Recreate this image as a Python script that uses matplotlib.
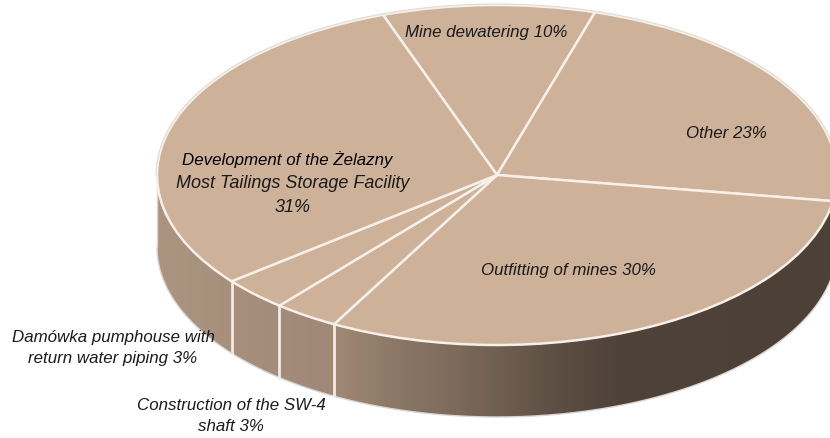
import numpy as np
import matplotlib
matplotlib.use('Agg')
import matplotlib.pyplot as plt
from matplotlib.colors import LinearSegmentedColormap
from matplotlib.patches import Polygon

labels = ['Mine dewatering', 'Other', 'Outfitting of mines',
          'Construction of the SW-4 shaft', 'Damówka pumphouse with return water piping',
          'Development of the Żelazny Most Tailings Storage Facility']
# slice sizes as drawn, the printed percents are rounded
values = [10.1, 22.8, 30.5, 3.1, 3.2, 30.3]

W, H = 830, 438
CX, CY, RX, RY = 497, 175, 340, 170
DEPTH = 72 / RY
START = 109.6

plt.rcParams['font.family'] = ['Liberation Sans', 'DejaVu Sans']

fig = plt.figure(figsize=(W / 100, H / 100), dpi=100)
ax = fig.add_axes([0, 0, 1, 1])

# rim first, the pie goes on top of it
t = np.linspace(np.pi, 2 * np.pi, 400)
xs = np.cos(t)
ys = np.sin(t)
rim_xy = np.column_stack([np.r_[xs, xs[::-1]], np.r_[ys, ys[::-1] - DEPTH]])
rim = Polygon(rim_xy, closed=True, facecolor='none', edgecolor='none')
ax.add_patch(rim)

stops = [(0.0, '#ab9480'), (0.26, '#9f8875'), (0.36, '#8b7665'), (0.50, '#706053'),
         (0.59, '#5c4e43'), (0.68, '#4f4238'), (1.0, '#4d4036')]
cmap = LinearSegmentedColormap.from_list('rim', stops)
grad = np.linspace(0, 1, 512).reshape(1, -1)
img = ax.imshow(grad, cmap=cmap, extent=[-1, 1, -1 - DEPTH, 0], aspect='auto', zorder=1)
img.set_clip_path(rim)

ax.plot(xs, ys - DEPTH, color='#dad6d2', lw=1.0, zorder=2)
ax.plot([-1, -1], [0, -DEPTH], color='#dad6d2', lw=1.0, zorder=2)

wedges, _ = ax.pie(values, startangle=START, counterclock=False, radius=1, center=(0, 0),
                   colors=['#cdb199'] * len(values),
                   wedgeprops={'edgecolor': '#f6f0e9', 'linewidth': 1.8, 'zorder': 3})

# grey line round the back of the disc
tb = np.linspace(0, np.pi, 300)
ax.plot(np.cos(tb) * 1.003, np.sin(tb) * 1.006, color='#e0dcd8', lw=0.8, zorder=4)

# white separators on the front of the rim
bounds = START - np.cumsum(values) * 3.6
for b in bounds:
    a = np.radians(b)
    if np.sin(a) < -0.5 and np.cos(a) < 0:
        ax.plot([np.cos(a)] * 2, [np.sin(a), np.sin(a) - DEPTH], color='#f0ebe5', lw=2, zorder=2)

ax.set_aspect('auto')
ax.set_xlim((0 - CX) / RX, (W - CX) / RX)
ax.set_ylim((CY - H) / RY, CY / RY)
ax.axis('off')


def put(px, py, s, color='#1a1a1a', size=12.2):
    fig.text(px / W, 1 - py / H, s, ha='center', va='center', style='italic', fontsize=size,
             color=color, linespacing=1.5)


put(486, 32, 'Mine dewatering 10%')
put(726, 134, 'Other 23%')
put(568, 271, 'Outfitting of mines 30%')
put(287, 160, 'Development of the Żelazny', color='#000000')
put(293, 183, 'Most Tailings Storage Facility', size=13)
put(293, 207, '31%', size=13)
put(113, 348, 'Damówka pumphouse with\nreturn water piping 3%')
put(231, 416, 'Construction of the SW-4\nshaft 3%')

fig.savefig('out.png', dpi=100)
